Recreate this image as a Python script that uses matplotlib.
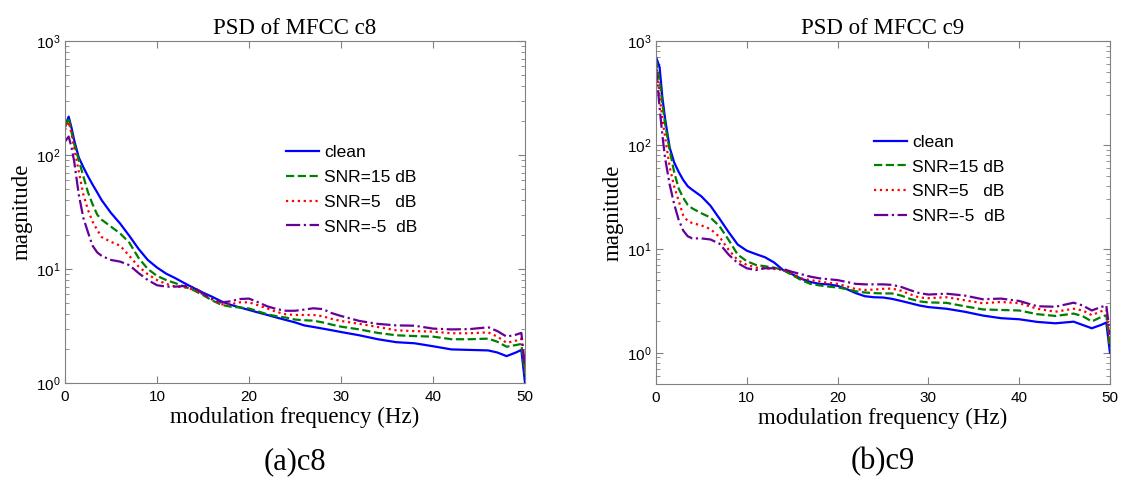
import numpy as np
import matplotlib
matplotlib.use("Agg")
import matplotlib.pyplot as plt
from matplotlib.ticker import LogLocator, NullFormatter

plt.rcParams['font.family'] = ['Liberation Sans', 'DejaVu Sans']
plt.rcParams['mathtext.default'] = 'regular'

# modulation frequency grid (Hz)
freq = [0, 0.4, 0.7, 1, 1.5, 2, 2.5, 3, 3.5, 4, 5, 6, 7, 8, 9, 10, 11, 12, 13, 14,
        15, 16, 17, 18, 19, 20, 21, 22, 23, 24, 25, 26, 27, 28, 29, 30, 32, 34,
        36, 38, 40, 42, 44, 46, 47, 48, 49, 49.6, 50]

# (a) c8
c8_clean = [177, 217, 175, 135, 95, 78, 65, 55, 47, 40, 31, 25, 19.5, 15, 12, 10.3,
            9.1, 8.3, 7.5, 6.8, 6.2, 5.7, 5.2, 4.85, 4.6, 4.37, 4.15, 3.95, 3.75,
            3.57, 3.4, 3.2, 3.1, 3.0, 2.9, 2.8, 2.62, 2.42, 2.28, 2.23, 2.1, 1.97,
            1.95, 1.93, 1.85, 1.72, 1.85, 1.95, 1.0]
c8_snr15 = [175, 212, 160, 125, 90, 65, 47, 37, 30, 27, 23.5, 20.5, 17, 12.5, 10,
            8.7, 8.0, 7.5, 7.0, 6.5, 5.9, 5.3, 4.85, 4.67, 4.6, 4.5, 4.25, 4.0, 3.85,
            3.75, 3.6, 3.55, 3.52, 3.4, 3.25, 3.12, 2.95, 2.75, 2.62, 2.58, 2.55,
            2.42, 2.42, 2.45, 2.3, 2.08, 2.15, 2.2, 1.2]
c8_snr5 = [165, 196, 155, 115, 72, 45, 33, 26, 22, 19, 17.3, 16, 13, 10.5, 9.0, 8.0,
           7.4, 7.0, 6.9, 6.6, 6.0, 5.4, 4.9, 4.9, 5.1, 5.1, 4.8, 4.5, 4.2, 4.0,
           3.95, 3.95, 3.95, 3.85, 3.65, 3.5, 3.3, 3.1, 2.9, 2.85, 2.82, 2.73, 2.73,
           2.78, 2.55, 2.25, 2.35, 2.45, 1.3]
c8_snrm5 = [131, 145, 118, 88, 45, 28, 21, 16, 14, 13, 12, 11.6, 10.8, 9.2, 8.0, 7.2,
            7.0, 7.0, 7.1, 6.9, 6.1, 5.5, 5.1, 5.2, 5.45, 5.5, 5.1, 4.7, 4.45, 4.3,
            4.3, 4.4, 4.52, 4.45, 4.1, 3.87, 3.5, 3.3, 3.2, 3.18, 3.0, 2.95, 2.97,
            3.08, 2.85, 2.55, 2.65, 2.75, 1.4]

# (b) c9
c9_clean = [705, 560, 290, 180, 95, 68, 55, 46, 40, 37, 32, 26, 19.5, 14.5, 11, 9.6,
            8.9, 8.3, 7.4, 6.25, 5.7, 5.15, 4.8, 4.6, 4.55, 4.4, 4.1, 3.75, 3.5,
            3.42, 3.4, 3.3, 3.15, 3.0, 2.85, 2.75, 2.65, 2.48, 2.28, 2.15, 2.1, 1.98,
            1.92, 1.99, 1.85, 1.72, 1.85, 1.95, 1.0]
c9_snr15 = [656, 420, 250, 160, 90, 55, 38, 31, 26.5, 24.5, 22, 20, 16.5, 12.2, 8.8,
            7.6, 7.0, 6.8, 6.6, 6.25, 5.6, 5.0, 4.6, 4.45, 4.33, 4.25, 4.1, 3.9, 3.8,
            3.75, 3.72, 3.72, 3.55, 3.3, 3.12, 3.05, 3.02, 2.8, 2.61, 2.58, 2.55,
            2.35, 2.26, 2.38, 2.25, 2.0, 2.2, 2.3, 1.1]
c9_snr5 = [610, 300, 180, 120, 62, 40, 29, 21, 18.5, 17.7, 16.8, 15.5, 13, 9.8, 7.8,
           7.0, 6.6, 6.5, 6.4, 6.25, 5.8, 5.2, 5.0, 4.85, 4.7, 4.6, 4.35, 4.1, 4.02,
           4.05, 4.12, 4.15, 3.95, 3.65, 3.4, 3.35, 3.42, 3.2, 2.99, 3.08, 3.0, 2.65,
           2.48, 2.65, 2.55, 2.3, 2.5, 2.6, 1.3]
c9_snrm5 = [566, 230, 125, 75, 42, 27, 19, 15, 13.2, 12.6, 12.6, 12.3, 11.2, 8.8, 7.3,
            6.5, 6.25, 6.5, 6.5, 6.4, 6.0, 5.7, 5.4, 5.2, 5.1, 5.0, 4.8, 4.6, 4.55,
            4.55, 4.55, 4.5, 4.3, 4.0, 3.75, 3.63, 3.7, 3.55, 3.27, 3.32, 3.15, 2.8,
            2.77, 3.03, 2.85, 2.55, 2.75, 2.85, 1.5]

labels = ['clean', 'SNR=15 dB', 'SNR=5   dB', 'SNR=-5  dB']
colors = ['#0000FF', '#008000', '#FF0000', '#660099']
styles = ['-', '--', ':', '-.']

panels = [
    ('PSD of MFCC c8', '(a)c8', [c8_clean, c8_snr15, c8_snr5, c8_snrm5], 1,
     [0.0578, 0.2184, 0.4093, 0.698], (0.48, 0.695)),
    ('PSD of MFCC c9', '(b)c9', [c9_clean, c9_snr15, c9_snr5, c9_snrm5], 0.5,
     [0.5836, 0.2163, 0.4039, 0.700], (0.48, 0.727)),
]

fig = plt.figure(figsize=(11.24, 4.9), dpi=100)
for title, cap, series, ymin, rect, leg_xy in panels:
    ax = fig.add_axes(rect)
    for y, lab, c, ls in zip(series, labels, colors, styles):
        ax.plot(freq, y, ls, color=c, lw=1.6, label=lab)
    ax.set_yscale('log')
    ax.set_xlim(0, 50)
    ax.set_ylim(ymin, 1000)
    ax.set_xticks([0, 10, 20, 30, 40, 50])
    ax.yaxis.set_major_locator(LogLocator(base=10, numticks=10))
    ax.yaxis.set_minor_locator(LogLocator(base=10, subs=np.arange(2, 10), numticks=10))
    ax.yaxis.set_minor_formatter(NullFormatter())
    ax.tick_params(which='both', direction='in', top=True, right=True,
                   color='#808080', labelsize=11)
    ax.tick_params(axis='x', which='major', pad=5)
    ax.tick_params(which='major', length=5)
    ax.tick_params(which='minor', length=3)
    for s in ax.spines.values():
        s.set_color('#808080')
    ax.set_title(title, family='Liberation Serif', fontsize=16.5, pad=5)
    ax.set_xlabel('modulation frequency (Hz)', family='Liberation Serif',
                  fontsize=16.5, labelpad=2)
    ax.set_ylabel('magnitude', family='Liberation Serif', fontsize=16.5, labelpad=2)
    ax.legend(loc='upper left', bbox_to_anchor=leg_xy, frameon=False, fontsize=12.5,
              handlelength=1.9, handletextpad=0.3, labelspacing=0.55, borderpad=0,
              borderaxespad=0)
    cx = rect[0] + rect[2] / 2
    fig.text(cx, 1 - 462 / 490, cap, family='Liberation Serif', fontsize=22,
             ha='center', va='center')

fig.savefig('out.png', dpi=100)
